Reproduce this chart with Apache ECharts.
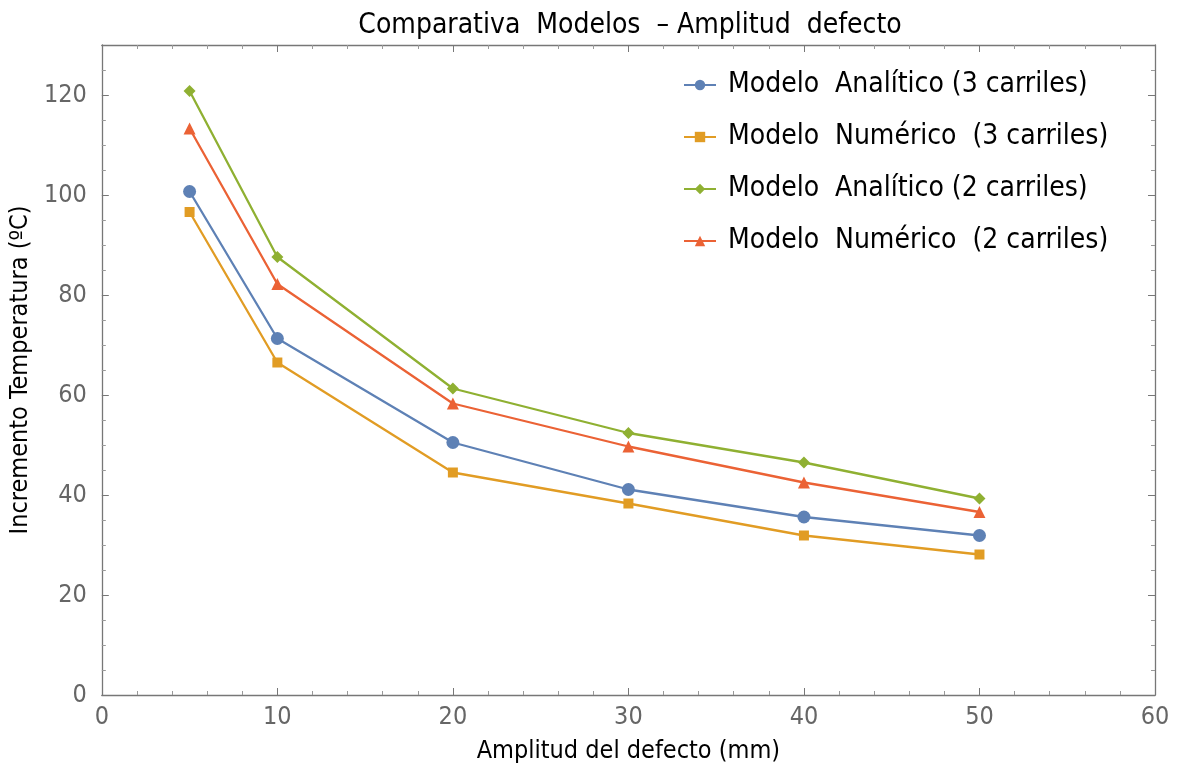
<!DOCTYPE html>
<html><head><meta charset="utf-8">
<script src="https://cdn.jsdelivr.net/npm/echarts@6/dist/echarts.min.js"></script>
<style>html,body{margin:0;padding:0;background:#fff}#c{width:1178px;height:769px}</style>
</head><body><div id="c"></div>
<script>
const amplitudes = [5, 10, 20, 30, 40, 50];
const analitico3 = [100.7, 71.3, 50.5, 41.1, 35.6, 31.9];
const numerico3 = [96.6, 66.5, 44.5, 38.3, 31.9, 28.1];
const analitico2 = [120.8, 87.6, 61.3, 52.4, 46.5, 39.3];
const numerico2 = [113.3, 82.2, 58.3, 49.7, 42.5, 36.6];
const seriesNames = ['Modelo  Analítico (3 carriles)', 'Modelo  Numérico  (3 carriles)', 'Modelo  Analítico (2 carriles)', 'Modelo  Numérico  (2 carriles)'];
const colors = ['#5E81B5', '#E19C24', '#8FB032', '#EB6235'];
const symbols = ['circle', 'rect', 'diamond', 'triangle'];
const symbolSizes = [13, 10, 12, 12];
const allData = [analitico3, numerico3, analitico2, numerico2];

const FONT = '"DejaVu Sans Condensed", "Liberation Sans Narrow", "Liberation Sans", sans-serif';
const chart = echarts.init(document.getElementById('c'));
const axisLine = {show: true, onZero: false, lineStyle: {color: '#777', width: 1.3}};
const axisTick = {show: true, inside: true, length: 7, lineStyle: {color: '#777'}};
chart.setOption({
  animation: false,
  backgroundColor: '#fff',
  title: {text: 'Comparativa  Modelos  – Amplitud  defecto', left: 625, textAlign: 'center', top: 7,
    textStyle: {fontFamily: FONT, fontSize: 28, fontWeight: 'normal', color: '#000'}},
  legend: {
    data: seriesNames, orient: 'vertical', left: 678, top: 66, itemGap: 24,
    itemWidth: 32, itemHeight: 13,
    textStyle: {fontFamily: FONT, fontSize: 28, color: '#000', padding: [0,0,0,7]}
  },
  grid: {left: 99, right: 23, top: 45, bottom: 73},
  xAxis: [
    {type: 'value', min: 0, max: 60, interval: 10, position: 'bottom',
      name: 'Amplitud del defecto (mm)', nameLocation: 'middle', nameGap: 44,
      nameTextStyle: {fontFamily: FONT, fontSize: 25, color: '#000'},
      axisLabel: {fontFamily: FONT, fontSize: 25, color: '#666', margin: 10},
      axisLine: axisLine, axisTick: axisTick, splitLine: {show: false},
      minorTick: {show: true, splitNumber: 5, length: 4, lineStyle: {color: '#999'}}},
    {type: 'value', min: 0, max: 60, interval: 10, position: 'top',
      axisLine: axisLine, axisTick: axisTick, splitLine: {show: false},
      minorTick: {show: true, splitNumber: 5, length: 4, lineStyle: {color: '#999'}},
      axisLabel: {show: false}}
  ],
  yAxis: [
    {type: 'value', min: 0, max: 130, interval: 20, position: 'left',
      name: 'Incremento Temperatura (ºC)', nameLocation: 'middle', nameGap: 65,
      nameTextStyle: {fontFamily: FONT, fontSize: 25, color: '#000'},
      axisLabel: {fontFamily: FONT, fontSize: 25, color: '#666', margin: 15, showMaxLabel: false},
      axisLine: axisLine, axisTick: axisTick, splitLine: {show: false},
      minorTick: {show: true, splitNumber: 4, length: 4, lineStyle: {color: '#999'}}},
    {type: 'value', min: 0, max: 130, interval: 20, position: 'right',
      axisLine: axisLine, axisTick: axisTick, splitLine: {show: false},
      minorTick: {show: true, splitNumber: 4, length: 4, lineStyle: {color: '#999'}},
      axisLabel: {show: false}}
  ],
  series: allData.map((d, i) => ({
    name: seriesNames[i], type: 'line', xAxisIndex: 0, yAxisIndex: 0,
    data: amplitudes.map((x, j) => [x, d[j]]),
    symbol: symbols[i], symbolSize: symbolSizes[i], showAllSymbol: true,
    itemStyle: {color: colors[i]}, lineStyle: {color: colors[i], width: 2.3}
  }))
});
</script></body></html>
